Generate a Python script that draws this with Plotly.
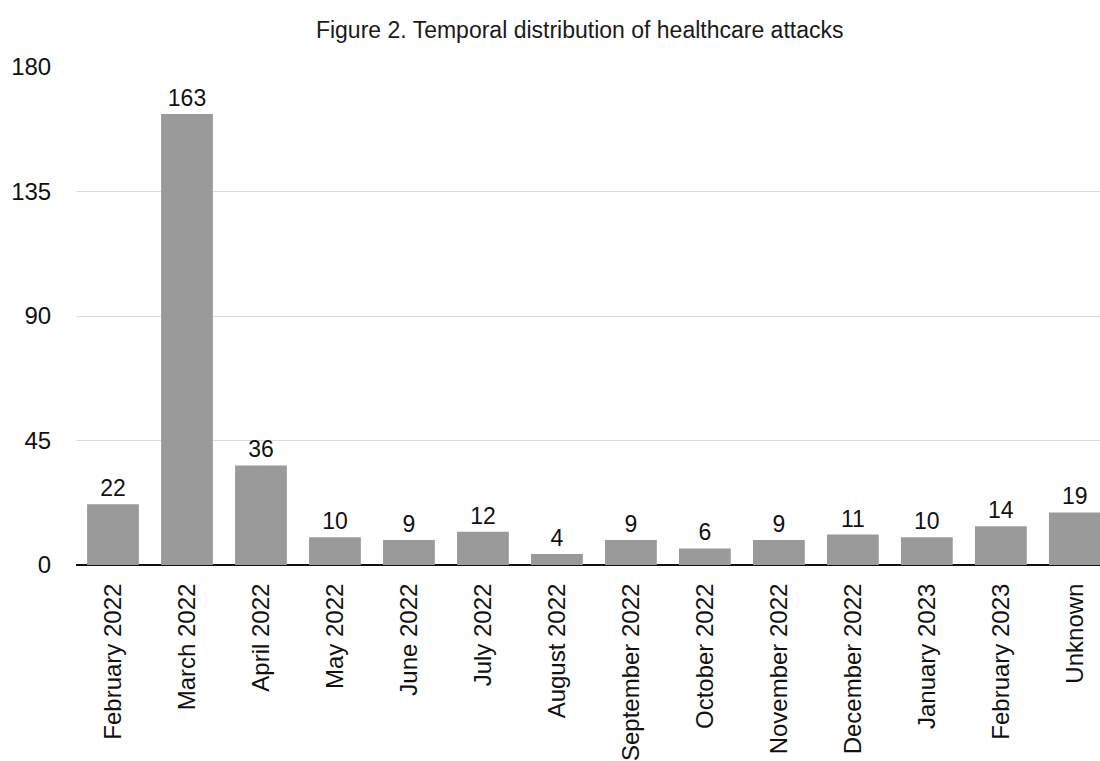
import plotly.graph_objects as go

categories = ["February 2022", "March 2022", "April 2022", "May 2022", "June 2022",
              "July 2022", "August 2022", "September 2022", "October 2022",
              "November 2022", "December 2022", "January 2023", "February 2023", "Unknown"]
values = [22, 163, 36, 10, 9, 12, 4, 9, 6, 9, 11, 10, 14, 19]
y_ticks = [0, 45, 90, 135, 180]

FONT = "Liberation Sans, Arial, Helvetica, sans-serif"

fig = go.Figure(go.Bar(
    x=categories, y=values,
    marker=dict(color="#9a9a9a", line=dict(width=0)),
    text=[str(v) for v in values], textposition="outside",
    textfont=dict(size=23, color="#111111", family=FONT),
    cliponaxis=False,
))

fig.update_layout(
    width=1100, height=761,
    paper_bgcolor="white", plot_bgcolor="white",
    margin=dict(l=76, r=0, t=67, b=196),
    bargap=0.3,
    showlegend=False,
    title=dict(text="Figure 2. Temporal distribution of healthcare attacks",
               x=0.527, xanchor="center", y=0.961, yanchor="middle",
               font=dict(size=23, color="#1a1a1a", family=FONT)),
    font=dict(family=FONT, color="#111111"),
)
fig.update_xaxes(
    type="category", range=[-0.5, 13.34], autorange=False,
    tickangle=-90, tickfont=dict(size=24, color="#111111"),
    showgrid=False, showline=False, zeroline=False,
    ticks="outside", ticklen=8, tickcolor="rgba(0,0,0,0)",
)
fig.update_yaxes(
    range=[0, 180], autorange=False, tickvals=y_ticks,
    tickfont=dict(size=24, color="#111111"),
    showgrid=True, gridcolor="#dcdcdc", gridwidth=1,
    zeroline=True, zerolinecolor="#111111", zerolinewidth=2,
    showline=False, ticks="outside", ticklen=19, tickcolor="rgba(0,0,0,0)",
)

fig.write_html(
    "out.html",
    config={"displayModeBar": False},
    post_script="document.body.style.margin='0';document.body.style.overflow='hidden';",
)
